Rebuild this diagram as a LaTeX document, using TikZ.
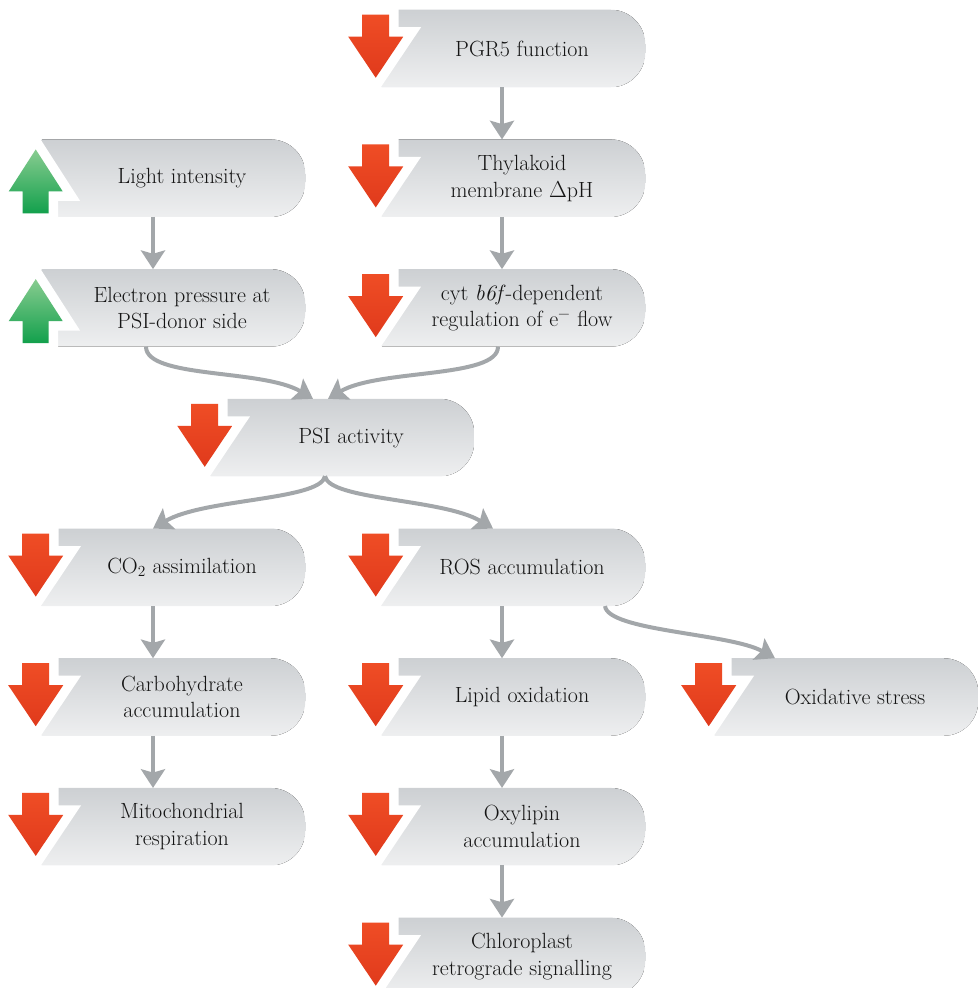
\documentclass[tikz,border=0pt]{standalone}
\usepackage{fontspec}
\usetikzlibrary{positioning,arrows.meta,backgrounds}
\definecolor{boxtop}{HTML}{CDD0D3}
\definecolor{boxbot}{HTML}{EEEFF0}
\definecolor{downred}{HTML}{EF4D25}
\definecolor{downredd}{HTML}{E03A1C}
\definecolor{upgreen}{HTML}{88CC90}
\definecolor{upgreend}{HTML}{12A04C}
\definecolor{linkgray}{HTML}{A3A7AA}
\definecolor{inktext}{HTML}{141414}
\tikzset{
  cardnode/.style={minimum width=184.5pt, minimum height=57.75pt, inner sep=0pt, align=center, text=inktext, font=\fontsize{16.5}{20}\selectfont},
  cardfill/.style={top color=boxtop, bottom color=boxbot, draw=none},
  linkarrow/.style={-{Stealth[length=14pt,width=18pt,inset=2.5pt]}, line width=3pt, draw=linkgray},
  markcut/.style={preaction={draw=white, line width=14.25pt, line join=miter}},
  downmark/.pic={
    \path[markcut, top color=downred, bottom color=downredd]
      (-13.5,5) -- (13.5,5) -- (13.5,27) -- (27.5,27) -- (0,68) -- (-27.5,27) -- (-13.5,27) -- cycle;
  },
  upmark/.pic={
    \path[markcut, top color=upgreen, bottom color=upgreend]
      (0,10) -- (27,52) -- (13,52) -- (13,74) -- (-13,74) -- (-13,52) -- (-27,52) -- cycle;
  }
}

\begin{document}
\begin{tikzpicture}[x=0.75pt, y=-0.75pt]
  \useasboundingbox (0,0) rectangle (979,988);
  \clip (0,0) rectangle (979,988);

  % boxes
  \node[cardnode] (pgr) at (522,48.5) {PGR5 function};
  \node[cardnode] (light) at (182,178.2) {Light intensity};
  \node[cardnode] (thyl) at (522,178.2) {Thylakoid\\membrane $\Delta$pH};
  \node[cardnode] (epress) at (182,307.9) {Electron pressure at\\PSI-donor side};
  \node[cardnode] (cytb) at (522,307.9) {cyt \textit{b6f}-dependent\\regulation of e\textsuperscript{−} flow};
  \node[cardnode] (psi) at (351,437.6) {PSI activity};
  \node[cardnode] (co2) at (182,567.3) {CO\textsubscript{2} assimilation};
  \node[cardnode] (ros) at (522,567.3) {ROS accumulation};
  \node[cardnode] (carb) at (182,697) {Carbohydrate\\accumulation};
  \node[cardnode] (lipid) at (522,697) {Lipid oxidation};
  \node[cardnode] (oxstress) at (855,697) {Oxidative stress};
  \node[cardnode] (mito) at (182,826.7) {Mitochondrial\\respiration};
  \node[cardnode] (oxylip) at (522,826.7) {Oxylipin\\accumulation};
  \node[cardnode] (chloro) at (522,956.4) {Chloroplast\\retrograde signalling};

  \begin{scope}[on background layer]
    \foreach \n in {pgr,light,thyl,epress,cytb,psi,co2,ros,carb,lipid,oxstress,mito,oxylip,chloro} {
      \begin{scope}
        \clip[rounded corners=26pt] ([xshift=-60pt]\n.north west) rectangle (\n.south east);
        \fill[cardfill] ([xshift=-12.75pt]\n.north west) rectangle (\n.south east);
      \end{scope}
    }
    \foreach \n in {pgr,thyl,cytb,psi,co2,ros,carb,lipid,oxstress,mito,oxylip,chloro}
      \pic at ([xshift=-17.25pt]\n.north west) {downmark};
    \foreach \n in {light,epress}
      \pic at ([xshift=-17.25pt]\n.north west) {upmark};
  \end{scope}

  % straight links
  \draw[linkarrow] ([xshift=-15pt]pgr.south) -- ([xshift=-15pt]thyl.north);
  \draw[linkarrow] ([xshift=-15pt]thyl.south) -- ([xshift=-15pt]cytb.north);
  \draw[linkarrow] ([xshift=-15pt]ros.south) -- ([xshift=-15pt]lipid.north);
  \draw[linkarrow] ([xshift=-15pt]lipid.south) -- ([xshift=-15pt]oxylip.north);
  \draw[linkarrow] ([xshift=-15pt]oxylip.south) -- ([xshift=-15pt]chloro.north);
  \draw[linkarrow] ([xshift=-21.75pt]light.south) -- ([xshift=-21.75pt]epress.north);
  \draw[linkarrow] ([xshift=-21.75pt]co2.south) -- ([xshift=-21.75pt]carb.north);
  \draw[linkarrow] ([xshift=-21.75pt]carb.south) -- ([xshift=-21.75pt]mito.north);

  % curved links
  \draw[linkarrow] ([xshift=-27pt]epress.south) .. controls +(0,32) and +(-50,-30) .. ([xshift=-28.5pt]psi.north);
  \draw[linkarrow] ([xshift=-18pt]cytb.south) .. controls +(0,32) and +(50,-30) .. ([xshift=-17.25pt]psi.north);
  \draw[linkarrow] ([xshift=-19.5pt]psi.south) .. controls +(-5,24) and +(50,-30) .. ([xshift=-21.75pt]co2.north);
  \draw[linkarrow] ([xshift=-19.5pt]psi.south) .. controls +(5,24) and +(-50,-30) .. ([xshift=-21.75pt]ros.north);
  \draw[linkarrow] ([xshift=62.25pt]ros.south) .. controls +(3,25) and +(-45,-25) .. ([xshift=-60pt]oxstress.north);
\end{tikzpicture}
\end{document}
